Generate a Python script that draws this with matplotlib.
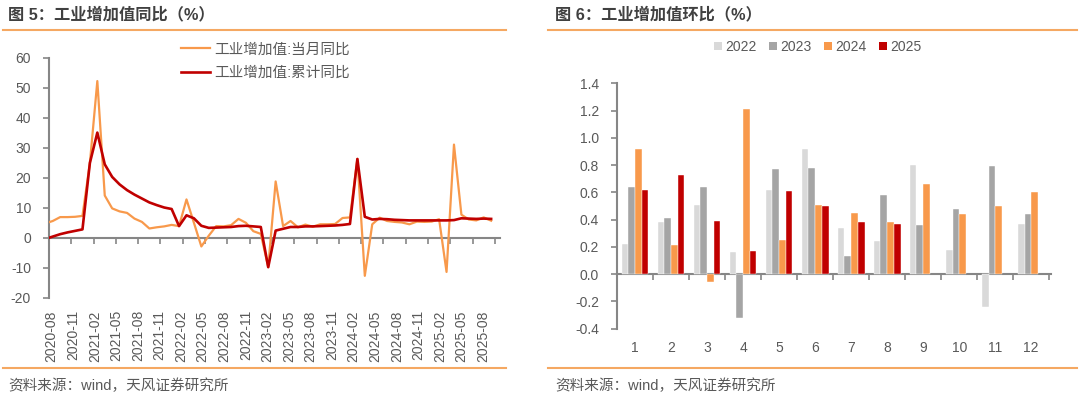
import numpy as np
import pandas as pd
import matplotlib
matplotlib.use("Agg")
import matplotlib.pyplot as plt
from matplotlib.lines import Line2D
from matplotlib.patches import Patch

plt.rcParams['font.family'] = ['Liberation Sans', 'Noto Sans CJK SC', 'DejaVu Sans']
plt.rcParams['axes.unicode_minus'] = False

# ---------------- data: left chart (monthly, 2020-07 .. 2025-07) ----------------
months = pd.period_range('2020-07', '2025-07', freq='M')
yoy_month = [4.8, 5.6, 6.9, 6.9, 7.0, 7.3,
             25.0, 52.3, 14.1, 9.8, 8.8, 8.3, 6.4, 5.3, 3.1, 3.5, 3.8, 4.3,
             3.9, 12.8, 5.0, -2.9, 0.7, 3.9, 3.8, 4.2, 6.3, 5.0, 2.2, 1.3,
             -9.8, 18.8, 3.9, 5.6, 3.5, 4.4, 3.7, 4.5, 4.5, 4.6, 6.6, 6.8,
             26.3, -12.7, 4.5, 6.7, 5.6, 5.3, 5.1, 4.5, 5.4, 5.3, 5.4, 6.2,
             -11.4, 31.1, 7.7, 6.1, 5.8, 6.8, 5.7]
yoy_cum = [-0.4, 0.4, 1.2, 1.8, 2.3, 2.8,
           25.0, 35.1, 24.5, 20.3, 17.8, 15.9, 14.4, 13.1, 11.8, 10.9, 10.1, 9.6,
           3.9, 7.5, 6.5, 4.0, 3.3, 3.4, 3.5, 3.6, 3.9, 4.0, 3.8, 3.6,
           -9.8, 2.4, 3.0, 3.6, 3.6, 3.8, 3.8, 3.9, 4.0, 4.1, 4.3, 4.6,
           26.3, 7.0, 6.1, 6.3, 6.2, 6.0, 5.9, 5.8, 5.8, 5.8, 5.8, 5.8,
           5.8, 5.9, 6.5, 6.4, 6.3, 6.4, 6.3]
left_tick_labels = ['2020-08', '2020-11', '2021-02', '2021-05', '2021-08', '2021-11',
                    '2022-02', '2022-05', '2022-08', '2022-11', '2023-02', '2023-05',
                    '2023-08', '2023-11', '2024-02', '2024-05', '2024-08', '2024-11',
                    '2025-02', '2025-05', '2025-08']
series_names = ['工业增加值:当月同比', '工业增加值:累计同比']

# ---------------- data: right chart (month-on-month by year) ----------------
mom_months = ['1', '2', '3', '4', '5', '6', '7', '8', '9', '10', '11', '12']
mom_2022 = [0.22, 0.38, 0.51, 0.16, 0.62, 0.915, 0.34, 0.24, 0.80, 0.18, -0.24, 0.37]
mom_2023 = [0.64, 0.41, 0.64, -0.32, 0.77, 0.78, 0.13, 0.58, 0.36, 0.48, 0.79, 0.44]
mom_2024 = [0.92, 0.21, -0.06, 1.21, 0.25, 0.505, 0.45, 0.385, 0.66, 0.44, 0.50, 0.60]
mom_2025 = [0.62, 0.73, 0.39, 0.17, 0.61, 0.50, 0.38, 0.37, np.nan, np.nan, np.nan, np.nan]
years = ['2022', '2023', '2024', '2025']

ORANGE = '#F8994B'
RED = '#C00000'
GRAY_AX = '#868686'
TXT = '#595959'
LINE_OR = '#F5A862'

fig = plt.figure(figsize=(10.8, 3.98), dpi=100)

# ---------------- left chart ----------------
ax = fig.add_axes([0.0454, 0.252, 0.4176, 0.6023])
x = np.arange(len(months)) - 0.5
ax.plot(x, yoy_month, color=ORANGE, lw=1.6, label=series_names[0], zorder=3)
ax.plot(x, yoy_cum, color=RED, lw=1.9, label=series_names[1], zorder=4)
ax.set_xlim(0, 60.7)
ax.set_ylim(-20, 60)
ax.set_yticks(np.arange(-20, 61, 10))
for s in ['top', 'right', 'bottom']:
    ax.spines[s].set_visible(False)
ax.spines['left'].set_color(GRAY_AX)
ax.spines['left'].set_linewidth(1.5)
ax.tick_params(axis='y', direction='out', length=4, width=1.2, color=GRAY_AX,
               labelcolor=TXT, labelsize=10, pad=9)
# labels at bottom
ax.set_xticks(np.arange(len(left_tick_labels)) * 2.903 + 0.36)
ax.set_xticklabels(left_tick_labels, rotation=90)
ax.tick_params(axis='x', length=0, labelcolor=TXT, labelsize=10, pad=9)
# axis line at zero with tick marks
sec = ax.secondary_xaxis(0.25)
sec.set_xticks(np.arange(0, 61, 3))
sec.set_xticklabels([])
sec.spines['bottom'].set_color(GRAY_AX)
sec.spines['bottom'].set_linewidth(1.5)
sec.tick_params(direction='out', length=4, width=1.2, color=GRAY_AX)
ax.legend(loc='upper left', bbox_to_anchor=(0.1676, 0.893), bbox_transform=fig.transFigure,
          frameon=False, fontsize=10.5, handlelength=2.0, handletextpad=0.3,
          labelspacing=0.62, borderpad=0, borderaxespad=0, labelcolor=TXT)

# ---------------- right chart ----------------
ax2 = fig.add_axes([0.5713, 0.1746, 0.4019, 0.616])
xc = np.arange(len(mom_months))
bw = 0.186
colors = ['#D9D9D9', '#A5A5A5', ORANGE, RED]
for k, (vals, c, yr) in enumerate(zip([mom_2022, mom_2023, mom_2024, mom_2025], colors, years)):
    ax2.bar(xc + (k - 1.5) * bw, vals, width=bw, color=c, label=yr, zorder=3,
            edgecolor='white', linewidth=0.3)
ax2.set_xlim(-0.5, 11.55)
ax2.set_ylim(-0.4, 1.4)
ax2.set_yticks(np.arange(-0.4, 1.41, 0.2))
ax2.yaxis.set_major_formatter(matplotlib.ticker.FormatStrFormatter('%.1f'))
for s in ['top', 'right', 'bottom']:
    ax2.spines[s].set_visible(False)
ax2.spines['left'].set_color(GRAY_AX)
ax2.spines['left'].set_linewidth(1.5)
ax2.tick_params(axis='y', direction='out', length=4, width=1.2, color=GRAY_AX,
                labelcolor=TXT, labelsize=10, pad=9)
ax2.set_xticks(xc)
ax2.set_xticklabels(mom_months)
ax2.tick_params(axis='x', length=0, labelcolor=TXT, labelsize=10, pad=9)
sec2 = ax2.secondary_xaxis(0.4 / 1.8)
sec2.set_xticks(np.arange(-0.5, 11.6, 1))
sec2.set_xticklabels([])
sec2.spines['bottom'].set_color(GRAY_AX)
sec2.spines['bottom'].set_linewidth(1.5)
sec2.tick_params(direction='out', length=4, width=1.2, color=GRAY_AX)
handles = [Patch(facecolor=c, edgecolor='none', label=y) for c, y in zip(colors, years)]
fig.legend(handles=handles, loc='center', bbox_to_anchor=(818 / 1080, 1 - 47 / 398), ncol=4,
           frameon=False, fontsize=10, handlelength=0.55, handleheight=0.55,
           handletextpad=0.25, columnspacing=0.9, labelcolor=TXT)

# ---------------- titles, rules, sources ----------------
def hline(x0, x1, y):
    fig.add_artist(Line2D([x0 / 1080, x1 / 1080], [1 - y / 398, 1 - y / 398],
                          transform=fig.transFigure, color=LINE_OR, lw=1.5))

hline(3, 506, 30)
hline(3, 506, 367.5)
hline(548, 1077, 30)
hline(548, 1077, 367.5)

fig.text(8 / 1080, 1 - 14 / 398, '图 5：工业增加值同比（%）', fontsize=11.7, fontweight='bold',
         color='#404040', va='center', ha='left')
fig.text(555 / 1080, 1 - 14 / 398, '图 6：工业增加值环比（%）', fontsize=11.7, fontweight='bold',
         color='#404040', va='center', ha='left')
fig.text(8 / 1080, 1 - 386 / 398, '资料来源：wind，天风证券研究所', fontsize=10.5,
         color=TXT, va='center', ha='left')
fig.text(555 / 1080, 1 - 386 / 398, '资料来源：wind，天风证券研究所', fontsize=10.5,
         color=TXT, va='center', ha='left')

fig.savefig('out.png', dpi=100)
